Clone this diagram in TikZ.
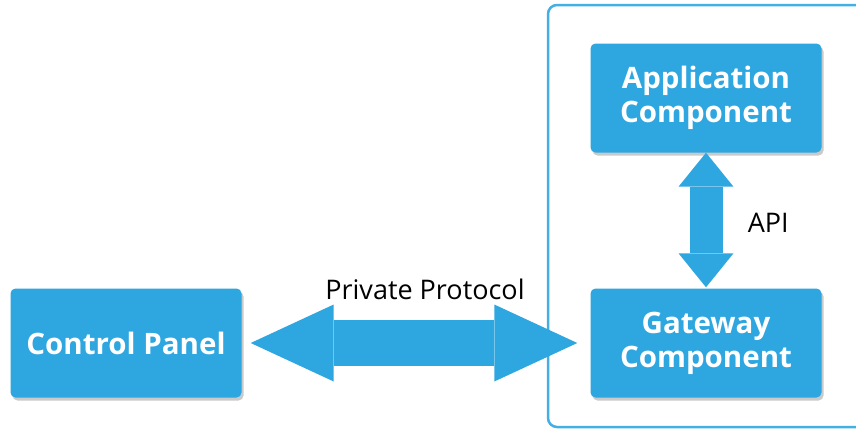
\documentclass[tikz,border=0pt]{standalone}
\usepackage{fontspec}
\setmainfont{Open Sans}
\usetikzlibrary{arrows.meta,shadows}
\definecolor{boxblue}{RGB}{46,166,224}
\tikzset{
	comp/.style={fill=boxblue,rounded corners=5pt,text=white,font=\fontsize{29.5}{34}\selectfont\bfseries,align=center,minimum width=231pt,minimum height=109pt,inner sep=0pt,drop shadow={shadow xshift=2pt,shadow yshift=-3pt,opacity=0.35,fill=black!60}},
	fatarrow/.style={draw=boxblue,line cap=butt},
	lbl/.style={font=\fontsize{27}{32}\selectfont,text=black}
}
\begin{document}
\begin{tikzpicture}[x=1pt,y=-1pt]
		\useasboundingbox (0,0) rectangle (856,429);
		\draw[boxblue!90,line width=2.5pt,rounded corners=9pt] (548,5) rectangle (880,427);
		\node[comp] (CP) at (126,343) {Control Panel};
		\node[comp] (App) at (706,98) {Application\\Component};
		\node[comp] (GW) at (706,343) {Gateway\\Component};
		\draw[fatarrow,line width=46pt,{Triangle[length=83pt,width=77pt,line width=0pt]}-{Triangle[length=83pt,width=77pt,line width=0pt]},shorten <=9pt,shorten >=13pt] (CP) -- (GW) node[lbl,midway,yshift=54pt,xshift=9pt] (PP) {Private Protocol};
		\draw[fatarrow,line width=33pt,{Triangle[length=34pt,width=55pt,line width=0pt]}-{Triangle[length=34pt,width=55pt,line width=0pt]},shorten <=0pt,shorten >=1pt] (App) -- (GW) node[lbl,midway,right,xshift=22pt,yshift=-2pt] (API) {API};
	\end{tikzpicture}
\end{document}
